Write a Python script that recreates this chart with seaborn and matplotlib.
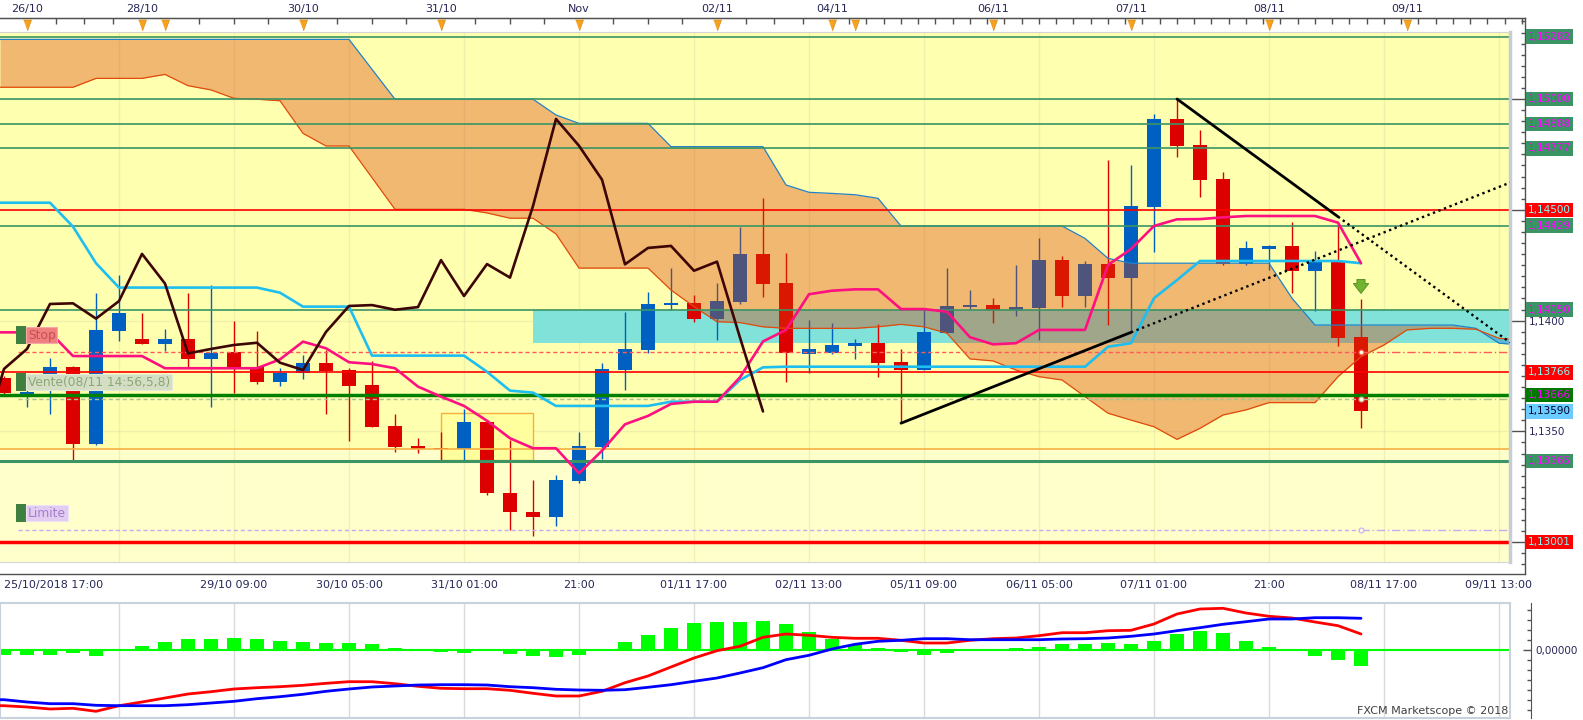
import numpy as np
import pandas as pd
import matplotlib
matplotlib.use("Agg")
import matplotlib.pyplot as plt
import matplotlib.transforms as mtransforms
from matplotlib.patches import Rectangle
from matplotlib.ticker import MultipleLocator
import seaborn as sns

sns.set_style("white")
plt.rcParams['font.family'] = ['DejaVu Sans']

# ---------------------------------------------------------------- data
# EUR/USD 4h bars, 25/10 17:00 -> 08/11
opens = [1.13742, 1.13671, 1.13691, 1.13791, 1.13442, 1.13954, 1.13917, 1.13896, 1.13917, 1.13828,
         1.13857, 1.13789, 1.13724, 1.13762, 1.13807, 1.13777, 1.13708, 1.13524, 1.13434, 1.13426,
         1.13419, 1.13542, 1.13221, 1.13136, 1.13115, 1.13278, 1.13431, 1.13777, 1.13867, 1.14070,
         1.14078, 1.14009, 1.14084, 1.14301, 1.14168, 1.13849, 1.13855, 1.13887, 1.13900, 1.13813,
         1.13777, 1.13945, 1.14061, 1.14070, 1.14049, 1.14058, 1.14273, 1.14111, 1.14255, 1.14194,
         1.14514, 1.14910, 1.14792, 1.14639, 1.14254, 1.14324, 1.14337, 1.14225, 1.14266, 1.13926]
highs = [1.13750, 1.13696, 1.13830, 1.13795, 1.14126, 1.14206, 1.14034, 1.13962, 1.14126, 1.14161,
         1.13998, 1.13953, 1.13785, 1.13845, 1.13867, 1.13785, 1.13818, 1.13579, 1.13469, 1.13496,
         1.13600, 1.13547, 1.13461, 1.13281, 1.13303, 1.13496, 1.13807, 1.14037, 1.14128, 1.14236,
         1.14116, 1.14168, 1.14424, 1.14552, 1.14304, 1.14003, 1.13989, 1.13917, 1.13986, 1.13872,
         1.14057, 1.14239, 1.14139, 1.14102, 1.14251, 1.14373, 1.14290, 1.14270, 1.14725, 1.14702,
         1.14934, 1.14999, 1.14860, 1.14671, 1.14358, 1.14340, 1.14444, 1.14314, 1.14439, 1.14097]
lows = [1.13664, 1.13611, 1.13579, 1.13361, 1.13440, 1.13909, 1.13896, 1.13864, 1.13785, 1.13609,
        1.13675, 1.13715, 1.13706, 1.13735, 1.13579, 1.13458, 1.13519, 1.13408, 1.13404, 1.13371,
        1.13371, 1.13214, 1.13055, 1.13028, 1.13074, 1.13266, 1.13377, 1.13687, 1.13852, 1.14048,
        1.13995, 1.13912, 1.14075, 1.14108, 1.13724, 1.13762, 1.13849, 1.13827, 1.13747, 1.13537,
        1.13775, 1.13943, 1.14054, 1.13991, 1.14021, 1.13912, 1.14063, 1.14063, 1.13980, 1.13950,
        1.14311, 1.14740, 1.14559, 1.14251, 1.14251, 1.14228, 1.14123, 1.14043, 1.13887, 1.13517]
closes = [1.13673, 1.13676, 1.13791, 1.13442, 1.13958, 1.14034, 1.13896, 1.13917, 1.13828, 1.13855,
          1.13785, 1.13724, 1.13762, 1.13807, 1.13774, 1.13706, 1.13521, 1.13431, 1.13422, 1.13419,
          1.13542, 1.13221, 1.13135, 1.13115, 1.13281, 1.13434, 1.13782, 1.13872, 1.14075, 1.14078,
          1.14009, 1.14088, 1.14301, 1.14167, 1.13852, 1.13872, 1.13890, 1.13900, 1.13810, 1.13777,
          1.13949, 1.14066, 1.14070, 1.14049, 1.14061, 1.14273, 1.14111, 1.14255, 1.14194, 1.14517,
          1.14910, 1.14789, 1.14636, 1.14254, 1.14328, 1.14337, 1.14225, 1.14266, 1.13923, 1.13590]

tenkan = [1.13947, 1.13947, 1.13947, 1.13840, 1.13840, 1.13840, 1.13840, 1.13785, 1.13785, 1.13785,
          1.13785, 1.13785, 1.13825, 1.13905, 1.13875, 1.13812, 1.13804, 1.13785, 1.13702, 1.13657,
          1.13615, 1.13548, 1.13469, 1.13424, 1.13424, 1.13311, 1.13413, 1.13532, 1.13570, 1.13624,
          1.13634, 1.13634, 1.13744, 1.13906, 1.13958, 1.14119, 1.14135, 1.14141, 1.14141, 1.14052,
          1.14052, 1.14040, 1.13925, 1.13893, 1.13898, 1.13958, 1.13958, 1.13958, 1.14251, 1.14323,
          1.14427, 1.14457, 1.14458, 1.14466, 1.14472, 1.14472, 1.14472, 1.14472, 1.14442, 1.14259]
kijun = [1.14532, 1.14532, 1.14532, 1.14424, 1.14259, 1.14149, 1.14149, 1.14149, 1.14149, 1.14149,
         1.14149, 1.14149, 1.14126, 1.14063, 1.14063, 1.14063, 1.13842, 1.13842, 1.13842, 1.13842,
         1.13842, 1.13769, 1.13684, 1.13675, 1.13615, 1.13615, 1.13615, 1.13615, 1.13615, 1.13634,
         1.13634, 1.13634, 1.13732, 1.13789, 1.13792, 1.13792, 1.13792, 1.13792, 1.13792, 1.13792,
         1.13792, 1.13792, 1.13792, 1.13792, 1.13792, 1.13792, 1.13792, 1.13792, 1.13882, 1.13898,
         1.14101, 1.14183, 1.14269, 1.14269, 1.14269, 1.14269, 1.14269, 1.14269, 1.14269, 1.14259]

# cloud spans, projected forward past the last bar
span_top = ([1.15269] * 16 + [1.15134] + [1.14999] * 7 + [1.14928] + [1.14890] * 4 + [1.14785] * 5
            + [1.14612, 1.14579, 1.14574, 1.14568, 1.14552] + [1.14427] * 8 + [1.14371, 1.14281]
            + [1.14259] * 7 + [1.14101] + [1.13980] * 7 + [1.13965, 1.13898, 1.13890])
span_bot = ([1.15053] * 4 + [1.15093] * 3 + [1.15111, 1.15060, 1.15041, 1.15003, 1.14999, 1.14992, 1.14845]
            + [1.14788] * 2 + [1.14645] + [1.14502] * 4 + [1.14486] + [1.14462] * 2 + [1.14391]
            + [1.14237] * 4 + [1.14138, 1.14063, 1.13995, 1.13991, 1.13972] + [1.13965] * 4
            + [1.13972, 1.13983, 1.13972, 1.13943, 1.13827, 1.13818, 1.13777, 1.13747, 1.13732,
               1.13657, 1.13582, 1.13551, 1.13521, 1.13464, 1.13514, 1.13574, 1.13597]
            + [1.13630] * 3 + [1.13747, 1.13837, 1.13890, 1.13958, 1.13965, 1.13965, 1.13961,
                               1.13920, 1.13912])

# MACD panel (units of 1e-5)
macd_hist = [-4.7, -5.3, -5.3, -3.3, -6.3, 0, 4.3, 8.3, 11.3, 11.3, 12.3, 11.3, 9.3, 8.3, 7.3, 7.3,
             6.3, 2.3, 0.3, -2.3, -3.3, -1.3, -4.3, -6.3, -7.3, -5.3, 0, 8.3, 15.3, 22.3, 27.3, 28.3,
             28.3, 29.3, 26.3, 18.3, 11.3, 5.3, 2.3, -1.7, -4.7, -3.3, 0, 1.3, 2.3, 3.3, 6.3, 6.3,
             7.3, 6.3, 9.3, 16.3, 19.3, 17.3, 9.3, 3.3, 0, -5.7, -9.7, -15.7]
macd_line = [-55.7, -57, -59, -58.3, -61.3, -55.7, -52, -48, -44, -41.7, -39, -37.7, -36.7, -35.3,
             -33.3, -31.7, -31.7, -33.7, -36.3, -38.3, -38.7, -38.7, -40.3, -43.3, -46, -46, -41.3,
             -32.7, -26, -17, -8, -0.7, 3.7, 12.7, 16, 14.7, 12.7, 11.7, 11.7, 9.7, 7, 7, 9.7, 11.3,
             12, 14.3, 17.3, 17.3, 19.3, 19.7, 26, 36, 41, 41.7, 37, 33.7, 32, 28, 24.3, 16]
macd_signal = [-49.7, -52, -53.7, -53.7, -55.3, -55.7, -55.7, -55.7, -54.7, -53, -51.3, -48.7, -46.7,
               -44.3, -41.3, -39, -37, -36, -35, -34.7, -34.7, -35, -36.7, -37.7, -39.3, -40, -40.3,
               -39.7, -37.3, -34.7, -31.3, -28, -23, -17.7, -9.7, -5.3, 1, 5.7, 8.7, 9.7, 11.3, 11.3,
               10.3, 10.3, 10.3, 10.3, 11, 11.3, 12, 13.7, 16, 19.3, 22.3, 25.7, 28.3, 31, 31, 32.3,
               32.3, 31.7]

# horizontal levels
levels_green = [1.15282, 1.15000, 1.14888, 1.14777, 1.14429, 1.14050]
levels_red = [1.14500, 1.13766]
level_support = 1.13666
level_orange = 1.13419
level_low = 1.13365
level_floor = 1.13001
stop_level, entry_level, limit_level = 1.13857, 1.13646, 1.13055

zone_start = 23
zone_price = [1.13898, 1.14050]
box_idx = [19, 23]
box_price = [1.13371, 1.13582]

trend_up_idx, trend_up_price = [39, 49], [1.13537, 1.13947]
trend_dn_idx, trend_dn_price = [51, 58], [1.15000, 1.14469]
signal_idx, signal_price = 59, 1.14154

day_idx = [1, 6, 7, 13, 19, 25, 31, 36, 37, 43, 49, 55, 61]
day_labels = ['26/10', '28/10', '', '30/10', '31/10', 'Nov', '02/11', '04/11', '', '06/11',
              '07/11', '08/11', '09/11']
time_idx = list(range(0, 70, 5))
time_labels = ['25/10/2018 17:00', '', '29/10 09:00', '30/10 05:00', '31/10 01:00', '21:00',
               '01/11 17:00', '02/11 13:00', '05/11 09:00', '06/11 05:00', '07/11 01:00', '21:00',
               '08/11 17:00', '09/11 13:00']

# ---------------------------------------------------------------- layout
W, H = 1583, 720
BAR_PX, BAR0_PX = 23.0, 4.0
PX_PER_PRICE, REF_PRICE, REF_Y = 22160.0, 1.15, 99.0


def bar_at(px):
    return (px - BAR0_PX) / BAR_PX


def price_at(py):
    return REF_PRICE - (py - REF_Y) / PX_PER_PRICE


def from_left(x, y, left):
    # carry a series flat to the left edge of the view
    return np.r_[left, x], np.r_[y[0], y]


fig = plt.figure(figsize=(W / 100, H / 100), dpi=100)


def add_px_axes(x0, y0, x1, y1):
    return fig.add_axes([x0 / W, 1 - y1 / H, (x1 - x0) / W, (y1 - y0) / H])


ax_frame = add_px_axes(0, 18, 1525, 574)
ax = add_px_axes(0, 32, 1510, 562)
ax_macd = add_px_axes(0, 603, 1510, 718)

AXC = '#505050'
TXT = '#27275A'

# ---- frame: date strip, time strip, price scale
ax_frame.set_xlim(bar_at(0), bar_at(1525))
ax_frame.set_ylim(price_at(574), price_at(18))
ax_frame.set_facecolor('white')
for s in ['top', 'right', 'bottom']:
    ax_frame.spines[s].set_color(AXC)
    ax_frame.spines[s].set_linewidth(1)
ax_frame.spines['left'].set_visible(False)

ax_frame.yaxis.tick_right()
ax_frame.set_yticks([1.130, 1.135, 1.140, 1.145, 1.150], labels=['', '1,1350', '1,1400', '', ''])
ax_frame.yaxis.set_minor_locator(MultipleLocator(0.0005))
ax_frame.tick_params(axis='y', which='major', direction='in', length=10.8, width=1, color=AXC,
                     pad=3, labelsize=7.5, labelcolor=TXT)
ax_frame.tick_params(axis='y', which='minor', direction='in', length=3, width=1, color=AXC)

ax_frame.set_xticks(time_idx, labels=time_labels)
ax_frame.xaxis.set_minor_locator(MultipleLocator(0.625))
ax_frame.tick_params(axis='x', which='major', direction='in', length=8.6, width=1, color=AXC,
                     pad=4.5, labelsize=8, labelcolor=TXT)
ax_frame.tick_params(axis='x', which='minor', direction='in', length=3.4, width=1, color=AXC)
ax_frame.get_xticklabels()[0].set_horizontalalignment('left')

top_minor = np.concatenate([np.linspace(1, 6, 5), np.arange(7, 31.1, 1.5),
                            np.linspace(31, 36, 5), np.arange(36.75, 66.2, 0.75)])
top = ax_frame.secondary_xaxis('top')
top.set_ticks(day_idx, labels=day_labels)
top.set_ticks(top_minor, minor=True)
top.tick_params(which='major', direction='in', length=0, pad=3, labelsize=8, labelcolor=TXT)
top.tick_params(which='minor', direction='in', length=4.5, width=1, color=AXC)
top.spines['top'].set_color(AXC)

tri = [(-0.36, 0.5), (0.36, 0.5), (0.0, -0.5)]
ax_frame.scatter(day_idx, np.full(len(day_idx), 1 - 6.5 / 556), marker=tri, s=62,
                 transform=ax_frame.get_xaxis_transform(), clip_on=False, zorder=6,
                 color='#F6A21E', edgecolor='#D98A10', linewidth=0.5)

# price tags on the right scale
tags = ([(p, '#3A9464', '#FF00FF') for p in levels_green + [level_low]]
        + [(p, '#FF0000', '#7FFFFF') for p in levels_red + [level_floor]]
        + [(level_support, '#007800', '#FF00FF'), (closes[-1], '#6ACCFF', '#00002A')])
for p, bg, fg in tags:
    ax_frame.annotate(f"{p:.5f}".replace('.', ','), xy=(1, p), xycoords=('axes fraction', 'data'),
                      xytext=(3, 0), textcoords='offset pixels', ha='left', va='center',
                      fontsize=7.5, color=fg, annotation_clip=False, zorder=6,
                      bbox=dict(boxstyle='square,pad=0.2', fc=bg, ec='none'))

# ---- main price panel
idx = np.arange(len(opens))
o, h, l, c = (np.array(v) for v in (opens, highs, lows, closes))
ax.set_xlim(bar_at(0), bar_at(1510))
ax.set_ylim(price_at(562), price_at(32))
xl, xr = ax.get_xlim()
ax.set_facecolor('#FFFFB0')
ax.set_xticks([])
ax.set_yticks([])
ax.spines['left'].set_visible(False)
for s in ['top', 'bottom']:
    ax.spines[s].set_color('#D2D6DA')
ax.spines['right'].set_color('#C5CED6')
ax.spines['right'].set_linewidth(2.5)

ax.axhspan(price_at(562), level_orange, color='#FFFFCC', lw=0, zorder=0.1)
for t in time_idx[1:]:
    ax.axvline(t, color='#E6E6A6', lw=1, alpha=0.6, zorder=0.2)
for p in [1.130, 1.135, 1.140, 1.145, 1.150]:
    ax.axhline(p, color='#E6E6A6', lw=1, alpha=0.6, zorder=0.2)

ax.add_patch(Rectangle((box_idx[0], box_price[0]), box_idx[1] - box_idx[0], box_price[1] - box_price[0],
                       fc='#FFFF9E', ec='#F5B041', lw=1, zorder=0.3))
ax.fill_between([zone_start, xr + 1], zone_price[0], zone_price[1], color='#80E2D8', lw=0, zorder=0.4)

# candles
bull = c >= o
col = np.where(bull, '#0060C2', '#DC0000')
ax.vlines(idx, l, h, colors=col, lw=1, zorder=1)
ax.bar(idx, np.maximum(np.abs(c - o), 0.00008), bottom=np.minimum(o, c), width=0.6,
       color=col, linewidth=0, zorder=1.1)

# cloud
cx, st = from_left(np.arange(len(span_top)), np.array(span_top), xl)
_, sb = from_left(np.arange(len(span_bot)), np.array(span_bot), xl)
ax.fill_between(cx, st, sb, where=st >= sb, interpolate=True, color='#D74005', alpha=0.37,
                lw=0, zorder=1.5)
ax.fill_between(cx, st, sb, where=st < sb, interpolate=True, color='#1E78C8', alpha=0.37,
                lw=0, zorder=1.5)
sns.lineplot(x=cx, y=st, ax=ax, color='#2282C8', lw=0.9, estimator=None, sort=False, zorder=1.6)
sns.lineplot(x=cx, y=sb, ax=ax, color='#E04A0A', lw=0.9, estimator=None, sort=False, zorder=1.6)

# horizontal levels
for p in levels_green:
    ax.axhline(p, color='#3A9464', lw=1.2, zorder=2)
for p in levels_red:
    ax.axhline(p, color='#FF0000', lw=1.2, zorder=2)
ax.axhline(level_orange, color='#F5B041', lw=1.2, zorder=2)
ax.axhline(level_low, color='#3A9464', lw=2.2, zorder=2)
ax.axhline(level_support, color='#008000', lw=2.5, zorder=2)
ax.axhline(level_floor, color='#FF0000', lw=2.5, zorder=2)

# order lines
last = idx[-1]
for level, lc in [(stop_level, '#FF5A5A'), (entry_level, '#A8C094'), (limit_level, '#C9A9F2')]:
    ax.plot([bar_at(18), last], [level, level], ls=(0, (3, 2)), color=lc, lw=1, zorder=2.1)
    ax.plot([last, xr], [level, level], ls=(0, (6, 2, 1, 2)), color=lc, lw=1, zorder=2.1)
    ax.plot(last, level, 'o', ms=3.5, mfc='#FFFFE0', mec=lc, mew=0.8, zorder=2.2)

# ichimoku lines
kx, ky = from_left(idx, kijun, xl)
tx, ty = from_left(idx, tenkan, xl)
sns.lineplot(x=kx, y=ky, ax=ax, color='#1EBEF0', lw=1.9, estimator=None, sort=False, zorder=2.5)
sns.lineplot(x=tx, y=ty, ax=ax, color='#FF1080', lw=1.9, estimator=None, sort=False, zorder=2.5)
lag = 26
chikou = closes[lag - 1:]
sns.lineplot(x=np.arange(len(chikou)) - 1, y=chikou, ax=ax, color='#3D0505', lw=1.9,
             estimator=None, sort=False, zorder=2.6)

# trend lines
for ti, tp in [(trend_up_idx, trend_up_price), (trend_dn_idx, trend_dn_price)]:
    slope = (tp[1] - tp[0]) / (ti[1] - ti[0])
    ax.plot(ti, tp, color='black', lw=2, zorder=2.7, solid_capstyle='round')
    ax.plot([ti[1], xr], [tp[1], tp[1] + slope * (xr - ti[1])], color='black', lw=1.7,
            ls=(0, (1, 1.5)), zorder=2.7)

# sell signal arrow
half = 7 / PX_PER_PRICE
ax.annotate('', xy=(signal_idx, signal_price - half), xytext=(signal_idx, signal_price + half),
            arrowprops=dict(arrowstyle='simple,head_length=0.55,head_width=0.85,tail_width=0.45',
                            mutation_scale=13, fc='#72B431', ec='#4F8A1E', lw=0.6,
                            shrinkA=0, shrinkB=0), zorder=3)

# order tags on the left
base = ax.get_yaxis_transform()
square = mtransforms.ScaledTranslation(21 / 100, 17 / 100, fig.dpi_scale_trans)
rect_marker = [(-0.3, -0.5), (0.3, -0.5), (0.3, 0.5), (-0.3, 0.5)]
for level, text, fc, ec, tc in [
        (stop_level, 'Stop', '#F08080', '#F6A8A8', '#C84E4E'),
        (entry_level, 'Vente(08/11 14:56,5,8)', '#D4DEC4', '#E4EAD8', '#8CA676'),
        (limit_level, 'Limite', '#E2CCF2', '#EFE2F8', '#A47ECA')]:
    ax.plot(0, level, marker=rect_marker, ms=13, color='#3F7F3F', mew=0,
            transform=base + square, clip_on=False, zorder=5)
    ax.annotate(text, xy=(0, level), xycoords=('axes fraction', 'data'), xytext=(28, 17),
                textcoords='offset pixels', ha='left', va='center', fontsize=8.8, color=tc,
                zorder=5, bbox=dict(boxstyle='square,pad=0.13', fc=fc, ec=ec, lw=0.8))

# ---- MACD panel
ax_macd.set_xlim(xl, xr)
ax_macd.set_ylim(-68, 47)
ax_macd.set_facecolor('white')
ax_macd.set_xticks([])
ax_macd.set_yticks([])
for s in ax_macd.spines.values():
    s.set_color('#C8D2DC')
    s.set_linewidth(1.5)
for t in time_idx[1:]:
    ax_macd.axvline(t, color='#DADADA', lw=1, zorder=0.5)
ax_macd.bar(idx, macd_hist, width=0.6, color='#00FF00', linewidth=0, zorder=2)
ax_macd.axhline(0, color='#00FF00', lw=1.5, zorder=2.2)
mx, my = from_left(idx, macd_line, xl)
sx, sy = from_left(idx, macd_signal, xl)
sns.lineplot(x=mx, y=my, ax=ax_macd, color='#FF0000', lw=2, estimator=None, sort=False, zorder=3)
sns.lineplot(x=sx, y=sy, ax=ax_macd, color='#0000FF', lw=2, estimator=None, sort=False, zorder=3)
ax_macd.text(0.999, 7 / 115, 'FXCM Marketscope © 2018', transform=ax_macd.transAxes, ha='right',
             va='center', fontsize=8, color='#404040')

ax_mr = ax_macd.twinx()
ax_mr.set_ylim(ax_macd.get_ylim())
for s in ['top', 'left', 'bottom']:
    ax_mr.spines[s].set_visible(False)
ax_mr.spines['right'].set_position(('outward', 15))
ax_mr.spines['right'].set_color(AXC)
ax_mr.set_yticks([0], labels=['0,00000'])
ax_mr.yaxis.set_minor_locator(MultipleLocator(10))
ax_mr.tick_params(which='major', direction='in', length=6, width=1, color=AXC, pad=3,
                  labelsize=7.5, labelcolor=TXT)
ax_mr.tick_params(which='minor', direction='in', length=3, width=1, color=AXC)

fig.savefig('out.png', dpi=100)
